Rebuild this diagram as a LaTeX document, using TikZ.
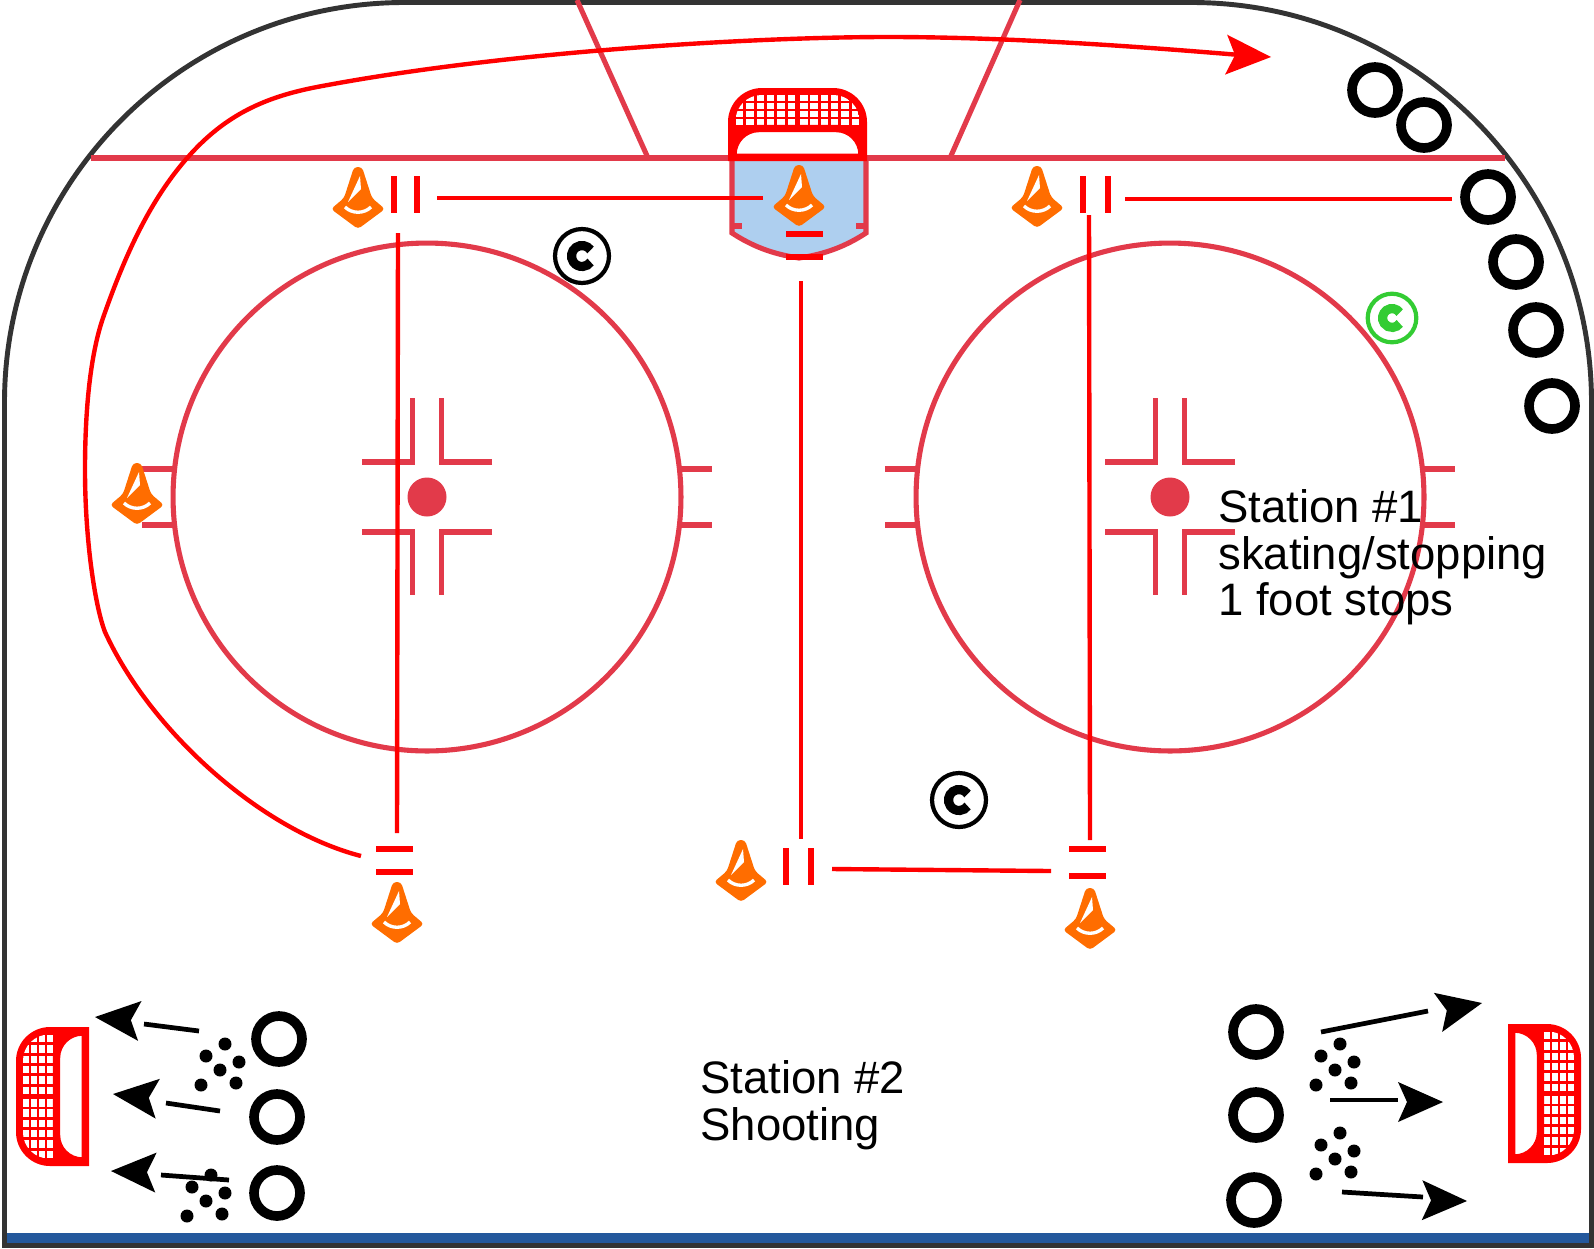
\documentclass[tikz,border=0pt]{standalone}
\usepackage{fontspec}
\setmainfont{Liberation Sans}
\definecolor{rinkline}{RGB}{226,58,74}
\definecolor{crease}{RGB}{174,207,239}
\definecolor{coneorg}{RGB}{255,109,0}
\definecolor{bandblue}{RGB}{36,88,156}
\definecolor{coachgreen}{RGB}{51,204,51}

\begin{document}
\begin{tikzpicture}
[
  x=0.02cm,
  y=-0.02cm,
	border/.style={line width=2.8pt,draw=black!80},
	ice/.style={line width=2.9pt,draw=rinkline},
	drill/.style={line width=2.5pt,draw=red},
	bar/.style={line width=3.4pt,draw=red},
	shot/.style={line width=2.7pt,draw=black},
	player/.style={circle,draw=black,line width=5.5pt,minimum size=0.92cm,inner sep=0pt},
	station/.style={anchor=north west,align=left,inner sep=0pt,font=\fontsize{25.9}{26.6}\selectfont},
	pics/cone/.style={code={
		\fill[coneorg,rounded corners=2pt] (-4,-42) -- (4,-42) -- (14,-11) -- (27,0) -- (0,20) -- (-27,0) -- (-14,-11) -- cycle;
		\fill[white] (2,-33) -- (-10,-7) -- (3,-20) -- cycle;
		\draw[white,line width=1.9pt] (-13,-2) .. controls (-6,5) and (6,5) .. (13,-2);
	}},
	pics/coach/.style={code={
		\draw[line width=2.4pt] (0,0) circle (0.54cm);
		\draw[line width=5.2pt] (8.6,-6.02) arc[start angle=35,end angle=325,radius=0.21cm];
	}},
	pics/pucks/.style={code={
		\foreach \dx/\dy in {0/0,-19/12,14/18,-5/26,-24/41,11/39}
			\fill (\dx,\dy) circle (0.13cm);
	}},
	pics/head/.style={code={
		\fill (0,0) -- (-45,-20) -- (-36,0) -- (-45,20) -- cycle;
	}},
	pics/goal/.style={code={
		\fill[red] (-69.5,0) [rounded corners=0.68cm] -- (-69.5,-73) -- (69.5,-73) [sharp corners] -- (69.5,0) -- cycle;
		\begin{scope}
			\clip (-62,0) [rounded corners=0.52cm] -- (-62,-66) -- (62,-66) [sharp corners] -- (62,0) -- cycle;
			\foreach \s in {-1,1}
				\foreach \x in {6.3,16.6,26.9,37.2,47.5,57.8}
					\foreach \y in {-63,-55,-47,-39}
						\fill[white] (\s*\x,\y) ++(-3.7,-2.8) rectangle ++(7.4,5.6);
		\end{scope}
		\draw[red,fill=white,line width=4.2pt] (-64.5,-3.7) [rounded corners=0.52cm] -- (-64.5,-32.5) -- (64.5,-32.5) [sharp corners] -- (64.5,-3.7) -- cycle;
	}}
]

% page size
\useasboundingbox (0,0) rectangle (1594,1248);

% boards
\fill[bandblue] (7,1233) rectangle (1589,1243);
\draw[border] (4.5,1245.5) [rounded corners=8cm] -- (4.5,2.5) -- (1591.5,2.5) [sharp corners] -- (1591.5,1245.5) -- cycle;

% goal line and trapezoid
\draw[ice] (91,158) -- (1505,158);
\draw[ice] (577,0) -- (648,158);
\draw[ice] (1020,0) -- (950,158);

% crease
\draw[ice,fill=crease] (732,158) -- (732,233) .. controls (752,246) and (772,254) .. (799,258) .. controls (826,254) and (846,246) .. (866,233) -- (866,158);
\draw[ice] (732,226) -- (742,226);
\draw[ice] (856,226) -- (866,226);

% faceoff circles
\foreach \cx in {427,1170} {
	\draw[ice] (\cx,497) circle (5.08cm);
	\fill[rinkline] (\cx,497) circle (0.39cm);
	\foreach \sx in {-1,1} {
		\draw[ice] (\cx+\sx*65,462) -- (\cx+\sx*14.5,462) -- (\cx+\sx*14.5,398);
		\draw[ice] (\cx+\sx*65,532) -- (\cx+\sx*14.5,532) -- (\cx+\sx*14.5,595);
		\draw[ice] (\cx+\sx*254,469) -- (\cx+\sx*285,469);
		\draw[ice] (\cx+\sx*254,525) -- (\cx+\sx*285,525);
	}
}

% nets
\pic at (797.5,161) {goal};
\pic[rotate=90] at (89,1096.5) {goal};
\pic[rotate=-90] at (1508,1093.5) {goal};

% station 1 route
\draw[drill] (437,198) -- (763,198);
\draw[drill] (398,233) -- (397,833);
\draw[drill] (801,281) -- (801,839);
\draw[drill] (832,869) -- (1051,871);
\draw[drill] (1089,215) -- (1090,840);
\draw[drill] (1125,199) -- (1452,199);
\draw[drill] (361,856) .. controls (260,830) and (150,730) .. (105,632)
	.. controls (95,606) and (85,540) .. (85,470)
	.. controls (85,400) and (92,350) .. (103,318)
	.. controls (125,255) and (150,200) .. (188,157)
	.. controls (225,115) and (265,97) .. (317,87)
	.. controls (500,52) and (750,37) .. (888,37)
	.. controls (1000,37) and (1120,45) .. (1240,55);
\pic[red,rotate=-3] at (1271,57) {head};

% bars beside the cones
\draw[bar] (394,176) -- (394,213);
\draw[bar] (417,176) -- (417,213);
\draw[bar] (1083,176) -- (1083,213);
\draw[bar] (1108,176) -- (1108,213);
\draw[bar] (786,848) -- (786,885);
\draw[bar] (811,848) -- (811,885);
\draw[bar] (376,849) -- (413,849);
\draw[bar] (376,872) -- (413,872);
\draw[bar] (1069,849) -- (1106,849);
\draw[bar] (1069,876) -- (1106,876);
\draw[bar] (786,234) -- (823,234);
\draw[bar] (786,257) -- (823,257);

% cones
\pic at (358,209) {cone};
\pic at (799,207) {cone};
\pic at (1037,208) {cone};
\pic at (137,505) {cone};
\pic at (397,924) {cone};
\pic at (741,882) {cone};
\pic at (1090,930) {cone};

% coaches
\pic at (582,256) {coach};
\pic at (959,800) {coach};
\pic[color=coachgreen,scale=0.9] at (1392,318) {coach};

% waiting line in the corner
\node[player] (wait1) at (1375,90) {};
\node[player] (wait2) at (1424,125) {};
\node[player] (wait3) at (1488,197) {};
\node[player] (wait4) at (1516,262) {};
\node[player] (wait5) at (1536,330) {};
\node[player] (wait6) at (1552,406) {};

% shooters
\node[player] (shootL1) at (279,1039) {};
\node[player] (shootL2) at (277,1117) {};
\node[player] (shootL3) at (277,1193) {};
\node[player] (shootR1) at (1256,1032) {};
\node[player] (shootR2) at (1256,1115) {};
\node[player] (shootR3) at (1254,1200) {};

\pic at (225,1044) {pucks};
\pic at (211,1175) {pucks};
\pic at (1340,1044) {pucks};
\pic at (1340,1133) {pucks};

\draw[shot] (199,1031) -- (144,1024);
\draw[shot] (220,1111) -- (166,1103);
\draw[shot] (229,1180) -- (161,1175);
\pic[rotate=175] at (95,1017) {head};
\pic[rotate=174] at (113,1094) {head};
\pic[rotate=178] at (111,1171) {head};

\draw[shot] (1321,1032) -- (1428,1011);
\draw[shot] (1330,1100) -- (1398,1100);
\draw[shot] (1342,1192) -- (1423,1197);
\pic[rotate=12] at (1482,1003) {head};
\pic at (1443,1102) {head};
\pic[rotate=-1] at (1467,1201) {head};

% labels
\node[station] (station1) at (1218,489) {Station \#1\\skating/stopping\\1 foot stops};
\node[station] (station2) at (700,1060) {Station \#2\\Shooting};

\end{tikzpicture}
\end{document}
